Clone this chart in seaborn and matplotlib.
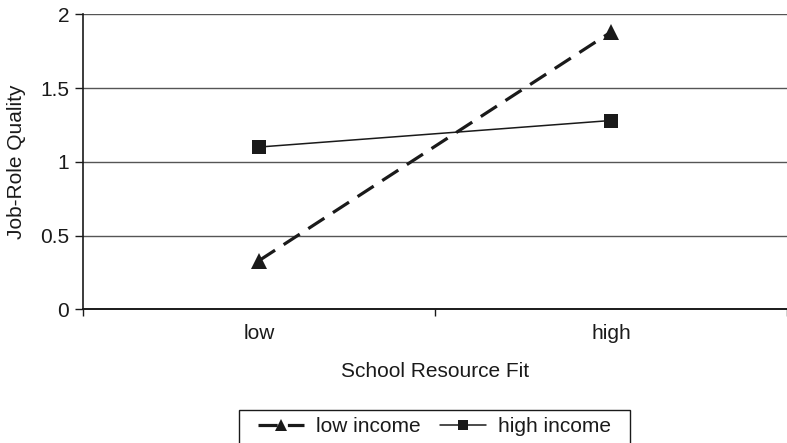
import matplotlib
matplotlib.use("Agg")
import matplotlib.pyplot as plt
from matplotlib.lines import Line2D
from matplotlib.patches import Rectangle
from matplotlib.ticker import FixedLocator, NullFormatter
import pandas as pd
import seaborn as sns

# Interaction data: job-role quality by school resource fit and income group
fit_levels = ["low", "high"]
low_income = [0.33, 1.88]
high_income = [1.10, 1.28]
y_ticks = [0, 0.5, 1, 1.5, 2]
y_tick_labels = ["0", "0.5", "1", "1.5", "2"]
groups = ["low income", "high income"]

df = pd.DataFrame({
    "fit": fit_levels * 2,
    "quality": low_income + high_income,
    "group": [groups[0]] * 2 + [groups[1]] * 2,
})

sns.set_theme(style="white")
plt.rcParams["font.family"] = ["Liberation Sans", "DejaVu Sans"]
FS = 15
INK = "#1a1a1a"
DASH = (6, 3.2)

fig = plt.figure(figsize=(7.87, 4.43), dpi=100)
ax = fig.add_axes([83 / 787, 1 - 309.3 / 443, 1 - 83 / 787, (309.3 - 14.3) / 443])

sns.lineplot(
    data=df, x="fit", y="quality", hue="group", style="group",
    palette={groups[0]: INK, groups[1]: INK},
    markers={groups[0]: "^", groups[1]: "s"},
    dashes={groups[0]: DASH, groups[1]: ""},
    size="group", sizes={groups[0]: 2.3, groups[1]: 1.1},
    ax=ax, legend=False,
)
for line, ms in zip(ax.lines, [12, 9.5]):
    line.set_markersize(ms)
    line.set_markeredgewidth(0)
    line.set_markerfacecolor(INK)
    line.set_markeredgecolor(INK)

ax.set_xlim(-0.5, 1.5)
ax.set_ylim(0, 2)
ax.set_yticks(y_ticks)
ax.set_yticklabels(y_tick_labels, fontsize=FS, color=INK)
ax.set_xticks(range(len(fit_levels)))
ax.set_xticklabels(fit_levels, fontsize=FS, color=INK)
ax.tick_params(axis="x", which="major", length=0, pad=10.5)
ax.xaxis.set_minor_locator(FixedLocator([-0.5, 0.5, 1.5]))
ax.xaxis.set_minor_formatter(NullFormatter())
ax.tick_params(axis="x", which="minor", bottom=True, length=5, width=1, color=INK)
ax.tick_params(axis="y", left=True, length=6, width=1, color=INK, pad=4)

for yv in y_ticks[1:]:
    ax.axhline(yv, color="#555555", lw=1.0, zorder=0)

for side in ["top", "right"]:
    ax.spines[side].set_visible(False)
ax.spines["left"].set_color(INK)
ax.spines["left"].set_linewidth(1.2)
ax.spines["bottom"].set_color(INK)
ax.spines["bottom"].set_linewidth(1.4)

ax.set_xlabel("School Resource Fit", fontsize=FS, color=INK, labelpad=14)
ax.set_ylabel("Job-Role Quality", fontsize=FS, color=INK, labelpad=10)

# Legend below the chart, with a plain square frame
handles = [
    Line2D([], [], color=INK, lw=2.3, dashes=DASH, marker="^", ms=9,
           mec=INK, mfc=INK, mew=0),
    Line2D([], [], color=INK, lw=1.1, marker="s", ms=7.5,
           mec=INK, mfc=INK, mew=0),
]
leg = fig.legend(
    handles, groups,
    loc="center", bbox_to_anchor=(434.5 / 787, 1 - 427 / 443),
    ncol=2, fontsize=FS, frameon=False,
    handlelength=2.2, handletextpad=0.6, columnspacing=0.9,
    borderpad=0, borderaxespad=0,
)
for t in leg.get_texts():
    t.set_color(INK)

fig.patches.append(Rectangle(
    (239 / 787, -0.05), (630 - 239) / 787, 0.05 + 1 - 410 / 443,
    transform=fig.transFigure, fill=False, edgecolor=INK, lw=1.0,
))

fig.savefig("out.png", dpi=100)
